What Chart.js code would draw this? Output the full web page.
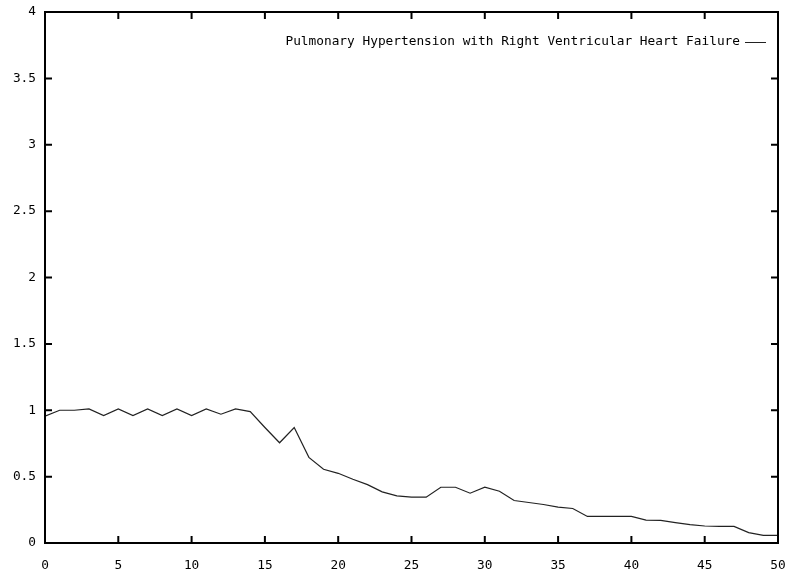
<!DOCTYPE html>
<html>
<head>
<meta charset="utf-8">
<script src="https://cdn.jsdelivr.net/npm/chart.js@4/dist/chart.umd.min.js"></script>
<style>
  html, body { margin: 0; padding: 0; background: #fff; }
  #wrap { width: 788px; height: 577px; }
</style>
</head>
<body>
<div id="wrap"><canvas id="c" width="788" height="577"></canvas></div>
<script>
const seriesLabel = "Pulmonary Hypertension with Right Ventricular Heart Failure";
const xValues = [0,1,2,3,4,5,6,7,8,9,10,11,12,13,14,15,16,17,18,19,20,21,22,23,24,25,26,27,28,29,30,31,32,33,34,35,36,37,38,39,40,41,42,43,44,45,46,47,48,49,50];
const yValues = [0.955,1.0,1.0,1.01,0.96,1.01,0.96,1.01,0.96,1.01,0.96,1.01,0.97,1.01,0.99,0.87,0.755,0.87,0.645,0.555,0.525,0.48,0.44,0.385,0.355,0.345,0.345,0.42,0.42,0.375,0.42,0.39,0.32,0.305,0.29,0.27,0.26,0.2,0.2,0.2,0.2,0.173,0.17,0.153,0.138,0.128,0.125,0.125,0.078,0.058,0.058];
const xTicks = [0,5,10,15,20,25,30,35,40,45,50];
const xTickLabels = ["0","5","10","15","20","25","30","35","40","45","50"];
const yTicks = [0,0.5,1,1.5,2,2.5,3,3.5,4];
const yTickLabels = ["0","0.5","1","1.5","2","2.5","3","3.5","4"];

const FONT = { family: "'DejaVu Sans Mono', 'Liberation Mono', monospace", size: 12.8 };

const framePlugin = {
  id: 'frame',
  afterDraw(chart) {
    const ctx = chart.ctx;
    const a = chart.chartArea;
    const xs = chart.scales.x, ys = chart.scales.y;
    ctx.save();
    ctx.strokeStyle = '#000';
    ctx.lineWidth = 2;
    ctx.strokeRect(a.left, a.top, a.right - a.left, a.bottom - a.top);
    const tl = 7;
    ctx.beginPath();
    xTicks.forEach(v => {
      const px = xs.getPixelForValue(v);
      ctx.moveTo(px, a.bottom); ctx.lineTo(px, a.bottom - tl);
      ctx.moveTo(px, a.top); ctx.lineTo(px, a.top + tl);
    });
    yTicks.forEach(v => {
      const py = ys.getPixelForValue(v);
      ctx.moveTo(a.left, py); ctx.lineTo(a.left + tl, py);
      ctx.moveTo(a.right, py); ctx.lineTo(a.right - tl, py);
    });
    ctx.stroke();
    // legend inside plot area, top right
    const ds = chart.data.datasets[0];
    ctx.font = FONT.size + 'px ' + FONT.family;
    ctx.fillStyle = '#000';
    ctx.textAlign = 'right';
    ctx.textBaseline = 'middle';
    const ly = a.top + 30;
    const lineEnd = a.right - 12;
    const lineStart = lineEnd - 21;
    ctx.fillText(ds.label, lineStart - 5, ly);
    ctx.strokeStyle = ds.borderColor;
    ctx.lineWidth = 1;
    ctx.beginPath();
    ctx.moveTo(lineStart, ly + 0.5); ctx.lineTo(lineEnd, ly + 0.5);
    ctx.stroke();
    ctx.restore();
  }
};

new Chart(document.getElementById('c'), {
  type: 'line',
  data: {
    datasets: [{
      label: seriesLabel,
      data: xValues.map((x, i) => ({ x: x, y: yValues[i] })),
      borderColor: '#222',
      borderWidth: 1.2,
      pointRadius: 0,
      tension: 0,
      fill: false
    }]
  },
  options: {
    responsive: false,
    animation: false,
    layout: { padding: { left: 0, right: 10, top: 12, bottom: 0 } },
    plugins: { legend: { display: false }, tooltip: { enabled: false } },
    scales: {
      x: {
        type: 'linear', min: 0, max: 50,
        afterBuildTicks: s => { s.ticks = xTicks.map(v => ({ value: v })); },
        afterFit: s => { s.height = 34; s.paddingLeft = 0; s.paddingRight = 0; },
        grid: { display: false, drawTicks: false },
        border: { display: false },
        ticks: { color: '#000', font: FONT, padding: 15, maxRotation: 0, autoSkip: false,
          callback: (v, i) => xTickLabels[i] }
      },
      y: {
        type: 'linear', min: 0, max: 4,
        afterBuildTicks: s => { s.ticks = yTicks.map(v => ({ value: v })); },
        afterFit: s => { s.width = 45; s.paddingTop = 0; s.paddingBottom = 0; },
        grid: { display: false, drawTicks: false },
        border: { display: false },
        ticks: { color: '#000', font: FONT, padding: 9, autoSkip: false,
          callback: (v, i) => yTickLabels[i] }
      }
    }
  },
  plugins: [framePlugin]
});
</script>
</body>
</html>
